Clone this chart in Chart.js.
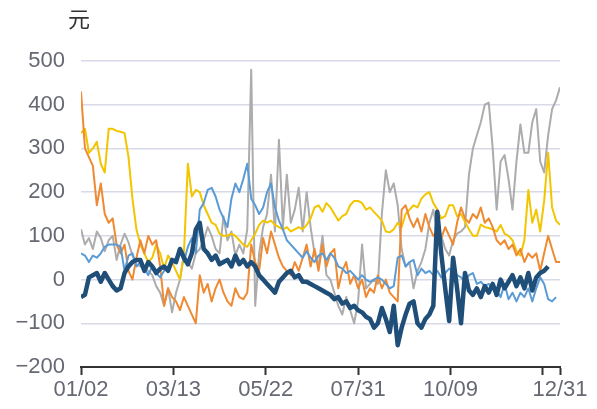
<!DOCTYPE html>
<html>
<head>
<meta charset="utf-8">
<script src="https://cdn.jsdelivr.net/npm/chart.js@4.4.1/dist/chart.umd.min.js"></script>
<style>
  body { margin: 0; background: #fff; }
  #wrap { width: 597px; height: 409px; position: relative; }
</style>
</head>
<body>
<div id="wrap"><canvas id="chart"></canvas></div>
<script>
// 每个点间隔3天, 从01/02开始
const STEP = 3;
const unitText = '元';

// x轴刻度 (距01/02的天数) 和标签
const tickDays = [0, 70, 140, 210, 280, 350, 363];
const tickLabels = ['01/02', '03/13', '05/22', '07/31', '10/09', '', '12/31'];

const orangeVals = [430,300,280,260,170,220,150,130,140,80,
  60,80,20,0,50,90,60,100,80,90,
  30,-60,-20,-40,-50,-70,-40,-60,-80,-100,
  10,-30,-10,-50,-20,0,-30,-50,-60,-20,
  -40,-45,-30,80,40,20,95,60,110,80,
  50,30,20,10,40,20,50,80,30,70,
  20,80,30,60,70,-20,20,40,-10,10,
  -20,0,-40,-20,-30,10,-20,0,-30,-40,
  -50,160,170,140,120,140,110,150,120,100,
  110,95,120,100,80,130,165,140,130,150,
  140,165,130,140,120,90,80,90,70,80,
  55,70,40,60,50,60,20,60,100,70,
  40,40];

const yellowVals = [335,345,290,300,315,265,245,345,345,340,
  338,335,280,185,115,80,60,40,50,80,
  60,25,55,40,20,0,60,265,190,205,
  200,170,150,130,125,105,100,100,105,100,
  90,80,75,90,105,125,135,130,135,125,
  120,115,120,110,115,120,115,125,140,165,
  170,155,175,165,150,135,145,150,170,180,
  180,175,160,165,155,145,135,110,108,115,
  130,120,150,160,170,165,185,195,200,175,
  160,140,145,170,170,145,150,132,115,100,
  100,126,120,118,115,110,125,105,100,90,
  65,55,90,205,130,160,110,180,290,165,
  135,125];

const grayVals = [115,80,95,70,110,95,65,90,100,45,
  80,105,85,55,35,30,25,20,10,-15,
  -30,-60,-20,-75,-30,0,55,40,25,60,
  70,90,120,100,70,60,145,90,110,55,
  80,60,115,480,-60,60,120,150,240,110,
  320,120,240,130,160,210,110,200,120,60,
  30,100,10,0,-30,-60,-80,-40,-70,-100,
  -50,80,-20,-10,0,-10,150,250,200,220,
  170,70,30,40,-20,20,40,70,130,160,
  110,100,70,55,90,105,110,120,240,300,
  330,360,400,405,300,160,270,285,230,160,
  270,355,290,290,360,390,270,245,330,390,
  410,440];

const lightBlueVals = [60,55,40,55,50,60,75,80,80,80,
  75,20,55,60,30,40,25,10,30,15,
  5,20,30,40,50,70,40,75,95,60,
  160,175,205,210,190,160,140,120,185,220,
  200,230,265,185,170,150,165,200,220,165,
  135,115,90,80,70,60,50,65,50,40,
  55,60,45,60,50,30,25,15,20,10,
  0,10,0,-5,0,5,0,-10,-20,-15,
  50,55,30,40,45,10,25,15,20,10,
  20,5,15,25,20,10,5,-5,10,15,
  -10,-5,-15,-10,-20,-25,-40,-10,-45,-30,
  -50,-30,-40,-20,-50,-20,5,-10,-45,-50,
  -40,null];

const darkBlueVals = [-40,-35,5,10,15,-5,15,0,-15,-25,
  -20,15,30,40,45,45,20,40,30,15,
  25,30,20,45,40,70,50,35,60,115,
  130,70,60,45,55,35,40,45,30,55,
  35,45,30,40,30,10,0,-10,-20,-30,
  -5,5,15,20,5,10,-5,-5,-10,-15,
  -20,-25,-30,-35,-45,-40,-55,-50,-65,-60,
  -70,-75,-85,-90,-110,-100,-65,-90,-120,-60,
  -150,-110,-80,-55,-50,-100,-110,-90,-80,-60,
  155,60,-20,-95,50,-20,-100,15,-25,-35,
  -20,-40,-15,-30,-10,-35,0,-20,-5,10,
  -15,5,-20,15,-25,5,15,20,30,null,
  null,null];

function toPoints(vals) {
  return vals.map((v, i) => ({ x: i * STEP, y: v }));
}

function fmtY(v) {
  return v < 0 ? '\u2212' + Math.abs(v) : String(v);
}

// 左上角单位
const unitLabel = {
  id: 'unitLabel',
  afterDraw(chart) {
    const ctx = chart.ctx;
    ctx.save();
    ctx.font = '22px "Noto Sans CJK SC"';
    ctx.fillStyle = '#333';
    ctx.textAlign = 'center';
    ctx.textBaseline = 'middle';
    ctx.fillText(unitText, 79, 19);
    ctx.restore();
  }
};

const lineBase = { pointRadius: 0, borderWidth: 2, tension: 0, borderJoinStyle: 'round', fill: false };

new Chart(document.getElementById('chart'), {
  type: 'line',
  data: {
    datasets: [
      { ...lineBase, data: toPoints(darkBlueVals), borderColor: '#1f4e79', borderWidth: 4.5 },
      { ...lineBase, data: toPoints(lightBlueVals), borderColor: '#5b9bd5' },
      { ...lineBase, data: toPoints(orangeVals), borderColor: '#ef8a32' },
      { ...lineBase, data: toPoints(yellowVals), borderColor: '#f2c500' },
      { ...lineBase, data: toPoints(grayVals), borderColor: '#acacac' }
    ]
  },
  options: {
    responsive: true,
    maintainAspectRatio: false,
    animation: false,
    layout: { padding: { top: 61, right: 37, left: 0, bottom: 0 } },
    plugins: { legend: { display: false }, tooltip: { enabled: false } },
    scales: {
      x: {
        type: 'linear',
        min: 0,
        max: 363,
        afterBuildTicks: (scale) => { scale.ticks = tickDays.map(v => ({ value: v })); },
        afterFit: (scale) => { scale.height = 42; },
        grid: { drawOnChartArea: false, drawTicks: true, tickLength: 8, tickColor: '#333', tickWidth: 2 },
        border: { display: true, color: '#333', width: 2 },
        ticks: {
          autoSkip: false,
          maxRotation: 0,
          padding: 2,
          color: '#666873',
          font: { family: '"Liberation Sans", Arial', size: 22 },
          callback: (v) => tickLabels[tickDays.indexOf(v)]
        }
      },
      y: {
        min: -200,
        max: 500,
        afterFit: (scale) => { scale.width = 81; },
        grid: { color: '#d8dae8', lineWidth: 1.5, drawTicks: false },
        border: { display: false },
        ticks: {
          stepSize: 100,
          padding: 16,
          color: '#666873',
          font: { family: '"Liberation Sans", Arial', size: 22 },
          callback: fmtY
        }
      }
    }
  },
  plugins: [unitLabel]
});
</script>
</body>
</html>
